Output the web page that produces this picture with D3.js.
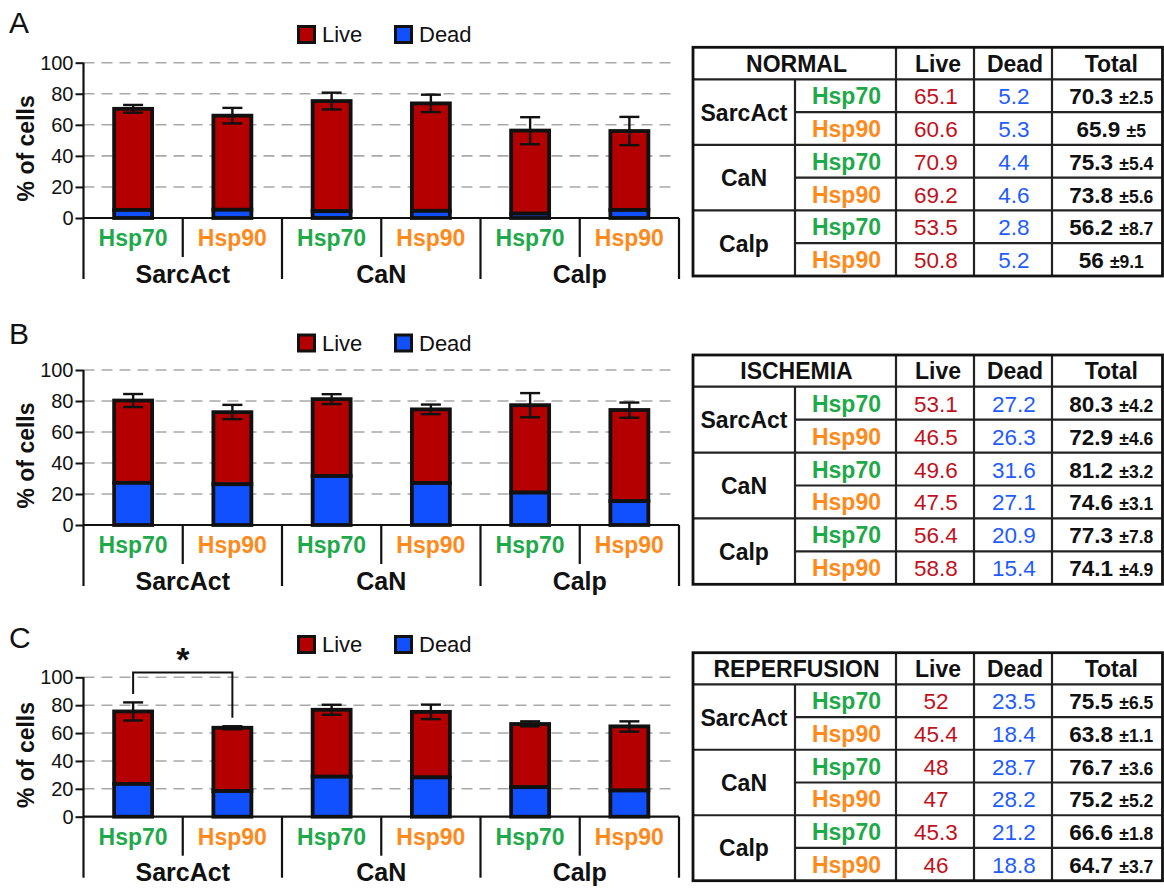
<!DOCTYPE html>
<html><head><meta charset="utf-8">
<script src="https://cdn.jsdelivr.net/npm/d3@7"></script>
<style>
html,body{margin:0;padding:0;background:#fff;}
svg{display:block;font-family:Arial,"Liberation Sans",Helvetica,sans-serif;}
</style></head>
<body>
<svg id="chart" width="1164" height="888"></svg>
<script>
// ---------- data ----------
const groups = ["SarcAct", "CaN", "Calp"];
const proteins = ["Hsp70", "Hsp90"];
const conditions = ["NORMAL", "ISCHEMIA", "REPERFUSION"];
const panelLetters = ["A", "B", "C"];
const seriesNames = ["Live", "Dead"];
const yTicks = [0, 20, 40, 60, 80, 100];

const liveNormal = [65.1, 60.6, 70.9, 69.2, 53.5, 50.8];
const deadNormal = [5.2, 5.3, 4.4, 4.6, 2.8, 5.2];
const totalNormal = [70.3, 65.9, 75.3, 73.8, 56.2, 56];
const errNormal = [2.5, 5, 5.4, 5.6, 8.7, 9.1];

const liveIschemia = [53.1, 46.5, 49.6, 47.5, 56.4, 58.8];
const deadIschemia = [27.2, 26.3, 31.6, 27.1, 20.9, 15.4];
const totalIschemia = [80.3, 72.9, 81.2, 74.6, 77.3, 74.1];
const errIschemia = [4.2, 4.6, 3.2, 3.1, 7.8, 4.9];

const liveReperfusion = [52, 45.4, 48, 47, 45.3, 46];
const deadReperfusion = [23.5, 18.4, 28.7, 28.2, 21.2, 18.8];
const totalReperfusion = [75.5, 63.8, 76.7, 75.2, 66.6, 64.7];
const errReperfusion = [6.5, 1.1, 3.6, 5.2, 1.8, 3.7];

// significance bracket in panel C: between bar 0 and bar 1
const sigPairReperfusion = [0, 1];
const sigLabel = "*";

// ---------- styles ----------
const C_LIVE = "#b40000", C_DEAD = "#1150ff";
const C_GREEN = "#1fa94a", C_ORANGE = "#ff8a1c";
const C_TLIVE = "#c0121c", C_TDEAD = "#1f5cff";
const proteinColor = p => p === "Hsp70" ? C_GREEN : C_ORANGE;

const panels = [
  {letter: panelLetters[0], cond: conditions[0], live: liveNormal, dead: deadNormal, total: totalNormal, err: errNormal,
   y0: 218, y100: 62.7, letterY: 33, legendY: 25, tTop: 47.3, tHead: 79.3, tBot: 276, sig: null},
  {letter: panelLetters[1], cond: conditions[1], live: liveIschemia, dead: deadIschemia, total: totalIschemia, err: errIschemia,
   y0: 525, y100: 370, letterY: 344, legendY: 333.5, tTop: 355, tHead: 386.7, tBot: 584.3, sig: null},
  {letter: panelLetters[2], cond: conditions[2], live: liveReperfusion, dead: deadReperfusion, total: totalReperfusion, err: errReperfusion,
   y0: 816.7, y100: 677.3, letterY: 648, legendY: 635, tTop: 652.7, tHead: 684.3, tBot: 880.7, sig: sigPairReperfusion}
];

const svg = d3.select("#chart");
const idx = d3.range(groups.length * proteins.length);
const AX = 83.5;
const x = d3.scaleBand().domain(idx).range([AX, 679]).padding(0);
const barW = 38;

panels.forEach(P => {
  const g = svg.append("g");
  const y = d3.scaleLinear().domain([0, 100]).range([P.y0, P.y100]);

  // panel letter
  g.append("text").attr("x", 9).attr("y", P.letterY).attr("font-size", 30).attr("fill", "#111").text(P.letter);

  // gridlines
  g.selectAll(".grid").data(yTicks.filter(t => t > 0)).join("line")
    .attr("x1", AX).attr("x2", 676).attr("y1", d => y(d)).attr("y2", d => y(d))
    .attr("stroke", "#a8a8a8").attr("stroke-width", 1.6).attr("stroke-dasharray", "11,7");

  // y axis
  const yAxis = d3.axisLeft(y).tickValues(yTicks).tickSize(8).tickPadding(2).tickFormat(d3.format("d"));
  const ya = g.append("g").attr("transform", `translate(${AX},0)`).call(yAxis);
  ya.select(".domain").remove();
  ya.selectAll(".tick line").attr("stroke", "#111").attr("stroke-width", 2);
  ya.selectAll(".tick text").attr("font-size", 20).attr("fill", "#111").attr("font-family", "Arial, 'Liberation Sans', sans-serif");

  // y title
  const midY = (P.y0 + P.y100) / 2 + 8;
  g.append("text").attr("transform", `translate(34,${midY}) rotate(-90)`).attr("text-anchor", "middle")
    .attr("font-size", 23).attr("font-weight", "bold").attr("fill", "#111").text("% of cells");

  // y axis line extending down as left separator
  g.append("line").attr("x1", AX).attr("x2", AX).attr("y1", P.y100).attr("y2", P.y0 + 61)
    .attr("stroke", "#111").attr("stroke-width", 2.2);
  // x axis line
  g.append("line").attr("x1", AX).attr("x2", 679).attr("y1", P.y0).attr("y2", P.y0)
    .attr("stroke", "#111").attr("stroke-width", 2.2);
  // separators
  idx.forEach(i => {
    if (i === 0) return;
    const xx = x(i);
    const isGroup = i % proteins.length === 0;
    g.append("line").attr("x1", xx).attr("x2", xx).attr("y1", P.y0).attr("y2", P.y0 + (isGroup ? 61 : 39))
      .attr("stroke", "#111").attr("stroke-width", 2.2);
  });
  g.append("line").attr("x1", 679).attr("x2", 679).attr("y1", P.y0).attr("y2", P.y0 + 61)
    .attr("stroke", "#111").attr("stroke-width", 2.2);

  // category labels
  idx.forEach(i => {
    const p = proteins[i % proteins.length];
    g.append("text").attr("x", x(i) + x.bandwidth() / 2).attr("y", P.y0 + 28.3).attr("text-anchor", "middle")
      .attr("font-size", 23).attr("font-weight", "bold").attr("fill", proteinColor(p)).text(p);
  });
  groups.forEach((gr, j) => {
    const cx = (x(j * 2) + x(j * 2 + 1) + x.bandwidth()) / 2;
    g.append("text").attr("x", cx).attr("y", P.y0 + 64.5).attr("text-anchor", "middle")
      .attr("font-size", 25).attr("font-weight", "bold").attr("fill", "#111").text(gr);
  });

  // bars
  idx.forEach(i => {
    const cx = x(i) + x.bandwidth() / 2;
    const d = P.dead[i], l = P.live[i];
    g.append("rect").attr("x", cx - barW / 2).attr("width", barW).attr("y", y(d + l)).attr("height", y(d) - y(d + l))
      .attr("fill", C_LIVE).attr("stroke", "#111").attr("stroke-width", 3.8);
    g.append("rect").attr("x", cx - barW / 2).attr("width", barW).attr("y", y(d)).attr("height", y(0) - y(d))
      .attr("fill", C_DEAD).attr("stroke", "#111").attr("stroke-width", 3.8);
    // error bar
    const t = P.total[i], e = P.err[i];
    g.append("line").attr("x1", cx).attr("x2", cx).attr("y1", y(t + e)).attr("y2", y(t - e)).attr("stroke", "#111").attr("stroke-width", 2.4);
    [t + e, t - e].forEach(v => g.append("line").attr("x1", cx - 10).attr("x2", cx + 10).attr("y1", y(v)).attr("y2", y(v))
      .attr("stroke", "#111").attr("stroke-width", 2.4));
  });

  // significance bracket
  if (P.sig) {
    const [a, b] = P.sig;
    const xa = x(a) + x.bandwidth() / 2, xb = x(b) + x.bandwidth() / 2;
    const top = 103.5;
    const la = P.total[a] + P.err[a] + 6, lb = P.total[b] + P.err[b] + 6;
    g.append("path").attr("d", `M${xa},${y(la)}V${y(top)}H${xb}V${y(lb)}`).attr("fill", "none")
      .attr("stroke", "#111").attr("stroke-width", 2);
    g.append("text").attr("x", (xa + xb) / 2).attr("y", y(top) - 1).attr("text-anchor", "middle")
      .attr("font-size", 34).attr("font-weight", "bold").attr("fill", "#111").text(sigLabel);
  }

  // legend
  const legX = [297, 394];
  seriesNames.forEach((s, k) => {
    g.append("rect").attr("x", legX[k] + 1.5).attr("y", P.legendY + 1.5).attr("width", 16).attr("height", 16)
      .attr("fill", k === 0 ? C_LIVE : C_DEAD).attr("stroke", "#111").attr("stroke-width", 3);
    g.append("text").attr("x", legX[k] + 25).attr("y", P.legendY + 17).attr("font-size", 22).attr("fill", "#111").text(s);
  });

  // ---------- table ----------
  const colX = [693, 795, 896, 974, 1052, 1162.5];
  const rowH = (P.tBot - P.tHead) / 6;
  const rowY = i => P.tHead + i * rowH;
  const tg = g.append("g");
  const thin = (x1, y1, x2, y2) => tg.append("line").attr("x1", x1).attr("y1", y1).attr("x2", x2).attr("y2", y2)
    .attr("stroke", "#222").attr("stroke-width", 2.2);
  thin(colX[0], P.tHead, colX[5], P.tHead);
  for (let r = 1; r < 6; r++) {
    if (r % 2 === 0) thin(colX[0], rowY(r), colX[5], rowY(r));
    else thin(colX[1], rowY(r), colX[5], rowY(r));
  }
  thin(colX[1], P.tHead, colX[1], P.tBot);
  [2, 3, 4].forEach(c => thin(colX[c], P.tTop, colX[c], P.tBot));
  tg.append("rect").attr("x", colX[0]).attr("y", P.tTop).attr("width", colX[5] - colX[0]).attr("height", P.tBot - P.tTop)
    .attr("fill", "none").attr("stroke", "#111").attr("stroke-width", 2.8);

  const hy = (P.tTop + P.tHead) / 2 + 8.5;
  const txt = (xx, yy, s, opt) => tg.append("text").attr("x", xx).attr("y", yy).attr("text-anchor", "middle")
    .attr("font-size", opt.size || 23).attr("font-weight", opt.bold ? "bold" : "normal").attr("fill", opt.color || "#111").text(s);
  txt((colX[0] + colX[2]) / 2 + 2, hy, P.cond, {bold: true});
  txt((colX[2] + colX[3]) / 2 + 3, hy, seriesNames[0], {bold: true});
  txt((colX[3] + colX[4]) / 2 + 2, hy, seriesNames[1], {bold: true});
  txt((colX[4] + colX[5]) / 2 + 4, hy, "Total", {bold: true});
  groups.forEach((gr, j) => txt((colX[0] + colX[1]) / 2, rowY(j * 2 + 1) + 8.5, gr, {bold: true}));
  idx.forEach(i => {
    const yy = rowY(i) + rowH / 2 + 8.5;
    const p = proteins[i % proteins.length];
    txt((colX[1] + colX[2]) / 2 + 1, yy, p, {bold: true, color: proteinColor(p)});
    txt((colX[2] + colX[3]) / 2 + 1, yy, String(P.live[i]), {color: C_TLIVE, size: 22.5});
    txt((colX[3] + colX[4]) / 2 + 1, yy, String(P.dead[i]), {color: C_TDEAD, size: 22.5});
    const t = tg.append("text").attr("x", (colX[4] + colX[5]) / 2 + 4).attr("y", yy).attr("text-anchor", "middle").attr("fill", "#111")
      .attr("font-weight", "bold");
    t.append("tspan").attr("font-size", 22.5).text(String(P.total[i]) + " ");
    t.append("tspan").attr("font-size", 17.5).text("\u00b1" + String(P.err[i]));
  });
});
</script>
</body></html>
